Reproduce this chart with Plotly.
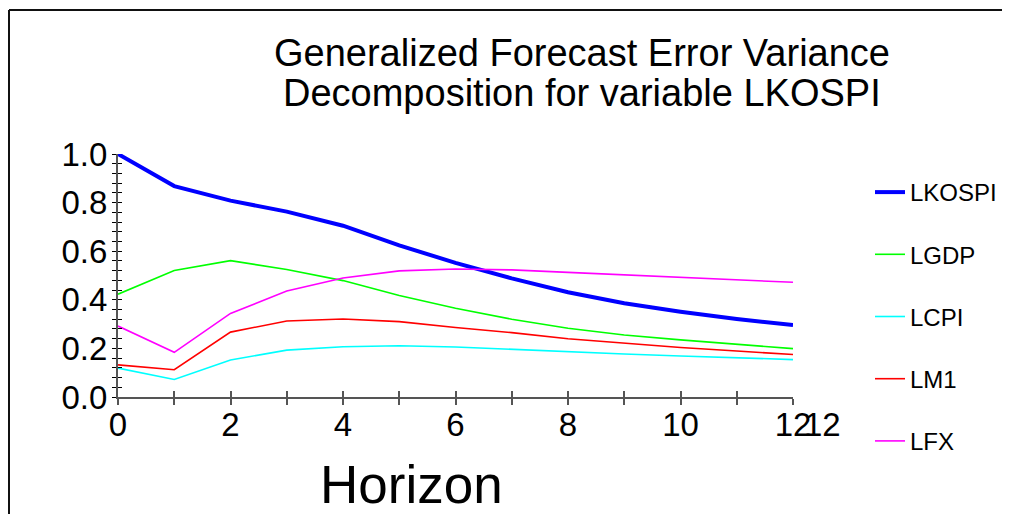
import plotly.graph_objects as go

horizon = list(range(13))
lkospi = [1.000, 0.868, 0.808, 0.763, 0.705, 0.624, 0.552, 0.488, 0.431, 0.386, 0.351, 0.321, 0.296]
lgdp   = [0.423, 0.521, 0.561, 0.525, 0.479, 0.418, 0.365, 0.320, 0.283, 0.255, 0.235, 0.217, 0.199]
lcpi   = [0.119, 0.072, 0.152, 0.193, 0.207, 0.211, 0.206, 0.196, 0.185, 0.177, 0.169, 0.160, 0.154]
lm1    = [0.132, 0.112, 0.267, 0.313, 0.321, 0.310, 0.286, 0.265, 0.240, 0.221, 0.204, 0.189, 0.175]
lfx    = [0.292, 0.184, 0.344, 0.436, 0.490, 0.519, 0.527, 0.523, 0.513, 0.503, 0.495, 0.484, 0.472]

series = [
    ("LKOSPI", lkospi, "#0000ff", 4),
    ("LGDP", lgdp, "#00ff00", 1.6),
    ("LCPI", lcpi, "#00ffff", 1.6),
    ("LM1", lm1, "#ff0000", 1.6),
    ("LFX", lfx, "#ff00ff", 1.6),
]

title_lines = ["Generalized Forecast Error Variance", "Decomposition for variable LKOSPI"]
x_ticks = [0, 2, 4, 6, 8, 10, 12]
y_ticks = [0.0, 0.2, 0.4, 0.6, 0.8, 1.0]
y_ticklabels = ["0.0", "0.2", "0.4", "0.6", "0.8", "1.0"]

FONT = "Liberation Sans, Arial, sans-serif"
OFF = 8  # page body margin
W, H = 1010 - 2 * OFF, 522 - 2 * OFF
# plot area in page pixels
PL, PR, PT, PB = 118, 793, 154, 397
L, T = PL - OFF, PT - OFF
R, B = W - (PR - OFF), H - (PB - OFF)
PW, PH = PR - PL, PB - PT

def px(xpage):
    return (xpage - PL) / PW

def py(ypage):
    return (PB - ypage) / PH

fig = go.Figure()
for name, vals, color, width in series:
    fig.add_trace(go.Scatter(
        x=horizon, y=vals, mode="lines", name=name,
        line=dict(color=color, width=width),
        legendgroup=name,
    ))

# invisible trace to activate the overlay axes (ticks crossing the axis lines)
fig.add_trace(go.Scatter(x=horizon, y=lkospi, mode="lines", xaxis="x2", yaxis="y2",
                         line=dict(color="rgba(0,0,0,0)"), showlegend=False, hoverinfo="skip"))

axis_col = "#555555"
fig.update_layout(
    width=W, height=H,
    margin=dict(l=L, r=R, t=T, b=B, autoexpand=False),
    paper_bgcolor="white", plot_bgcolor="white",
    font=dict(family=FONT, color="black"),
    showlegend=True,
    legend=dict(
        x=px(870), y=py(170), xanchor="left", yanchor="top",
        font=dict(size=24, family=FONT, color="black"),
        tracegroupgap=28, bgcolor="rgba(0,0,0,0)", maxheight=420,
    ),
    xaxis=dict(
        range=[0, 12], tickvals=x_ticks, ticktext=[str(v) for v in x_ticks],
        ticks="outside", ticklen=6, tickcolor=axis_col, tickwidth=1.5,
        minor=dict(dtick=1, tick0=0, ticks="outside", ticklen=6, tickcolor=axis_col, tickwidth=1.5),
        showline=True, linecolor=axis_col, linewidth=2,
        showgrid=False, zeroline=False,
        tickfont=dict(size=33, family=FONT, color="black"),
        ticklabelstandoff=-9,
        fixedrange=True,
    ),
    yaxis=dict(
        range=[0, 1.0], tickvals=y_ticks, ticktext=y_ticklabels,
        ticks="outside", ticklen=4, tickcolor="black", tickwidth=1.2,
        minor=dict(dtick=0.04, tick0=0, ticks="outside", ticklen=4, tickcolor="black", tickwidth=1.2),
        showline=True, linecolor=axis_col, linewidth=2,
        showgrid=False, zeroline=False,
        tickfont=dict(size=33, family=FONT, color="black"),
        ticklabelstandoff=-2,
        fixedrange=True,
    ),
    xaxis2=dict(
        overlaying="x", matches="x", anchor="y2", range=[0, 12],
        tickvals=x_ticks, ticks="inside", ticklen=6, tickcolor=axis_col, tickwidth=1.5,
        minor=dict(dtick=1, tick0=0, ticks="inside", ticklen=6, tickcolor=axis_col, tickwidth=1.5),
        showticklabels=False, showline=False, showgrid=False, zeroline=False,
    ),
    yaxis2=dict(
        overlaying="y", matches="y", anchor="x2", range=[0, 1.0],
        tickvals=y_ticks, ticks="inside", ticklen=4, tickcolor="black", tickwidth=1.2,
        minor=dict(dtick=0.04, tick0=0, ticks="inside", ticklen=4, tickcolor="black", tickwidth=1.2),
        showticklabels=False, showline=False, showgrid=False, zeroline=False,
    ),
)

# Title (two lines, tight spacing)
fig.add_annotation(text=title_lines[0], xref="paper", yref="paper", x=px(582), y=py(53),
                   xanchor="center", yanchor="middle", showarrow=False,
                   font=dict(size=38, family=FONT, color="black"))
fig.add_annotation(text=title_lines[1], xref="paper", yref="paper", x=px(582), y=py(93),
                   xanchor="center", yanchor="middle", showarrow=False,
                   font=dict(size=38, family=FONT, color="black"))

# Axis title
fig.add_annotation(text="Horizon", xref="paper", yref="paper", x=px(411), y=py(484),
                   xanchor="center", yanchor="middle", showarrow=False,
                   font=dict(size=53, family=FONT, color="black"))

# duplicated "12" label artefact
fig.add_annotation(text="12", xref="x", yref="paper", x=12, y=py(424), xshift=29,
                   xanchor="center", yanchor="middle", showarrow=False,
                   font=dict(size=33, family=FONT, color="black"))

# frame (top and left edges)
frame = dict(color="#111111", width=2)
fig.add_shape(type="line", xref="paper", yref="paper", x0=px(9), x1=px(1004), y0=py(10), y1=py(10), line=frame)
fig.add_shape(type="line", xref="paper", yref="paper", x0=px(9), x1=px(9), y0=py(10), y1=py(540), line=frame)

fig.write_html("out.html")
